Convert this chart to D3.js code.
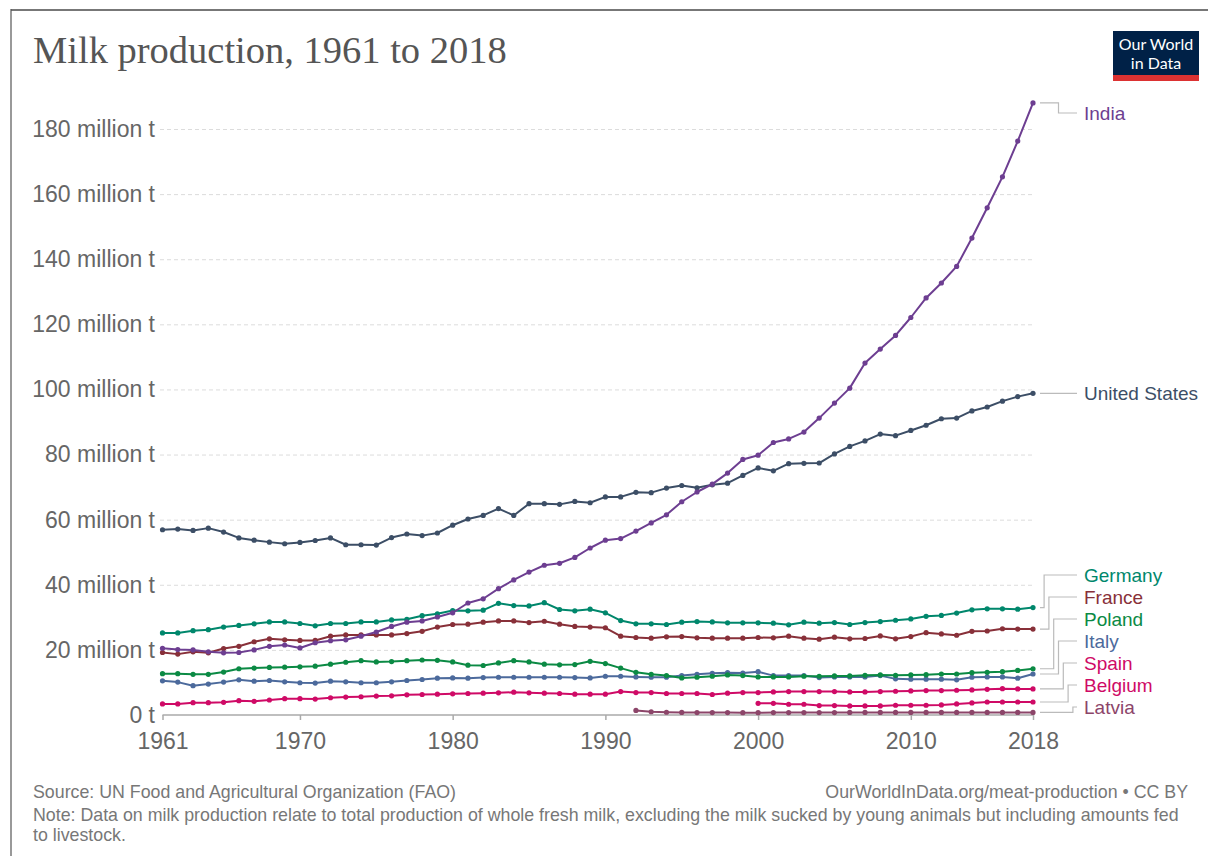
<!DOCTYPE html>
<html>
<head>
<meta charset="utf-8">
<script src="https://cdn.jsdelivr.net/npm/d3@7"></script>
<style>
  html, body { margin: 0; padding: 0; background: #fff; }
  svg { display: block; }
</style>
</head>
<body>
<svg id="chart" width="1208" height="856"></svg>
<script>
// ---------------- DATA ----------------
const firstYear = 1961;
const lastYear = 2018;
const xTickYears = [1961, 1970, 1980, 1990, 2000, 2010, 2018];
const yTickValues = [0, 20, 40, 60, 80, 100, 120, 140, 160, 180];

const india = [
  20.5, 20.1, 20.0, 19.4, 19.1, 19.2, 20.0, 21.1, 21.5, 20.6,
  22.2, 22.8, 23.1, 24.2, 25.5, 27.2, 28.5, 28.9, 30.1, 31.4,
  34.4, 35.7, 38.8, 41.5, 43.9, 46.0, 46.6, 48.4, 51.3, 53.7,
  54.2, 56.5, 59.0, 61.5, 65.5, 68.5, 70.9, 74.3, 78.5, 79.8,
  83.7, 84.8, 86.9, 91.2, 95.8, 100.4, 108.1, 112.4, 116.6, 122.1,
  128.1, 132.7, 137.8, 146.5, 155.8, 165.3, 176.3, 188.0
];
const unitedStates = [
  56.9, 57.1, 56.7, 57.4, 56.2, 54.4, 53.7, 53.1, 52.6, 53.0,
  53.6, 54.4, 52.3, 52.3, 52.2, 54.5, 55.6, 55.1, 55.9, 58.3,
  60.2, 61.3, 63.4, 61.3, 64.9, 64.9, 64.7, 65.6, 65.2, 67.0,
  67.0, 68.4, 68.3, 69.7, 70.5, 69.8, 70.7, 71.2, 73.6, 75.9,
  75.0, 77.2, 77.3, 77.4, 80.2, 82.5, 84.2, 86.3, 85.8, 87.4,
  89.0, 91.0, 91.2, 93.4, 94.6, 96.4, 97.8, 98.8
];
const germany = [
  25.2, 25.2, 25.9, 26.2, 27.0, 27.5, 28.0, 28.6, 28.6, 28.1,
  27.4, 28.1, 28.1, 28.6, 28.6, 29.2, 29.4, 30.5, 31.1, 32.1,
  32.0, 32.2, 34.3, 33.6, 33.5, 34.5, 32.4, 32.0, 32.5, 31.4,
  29.0, 28.0, 28.0, 27.8, 28.5, 28.7, 28.6, 28.3, 28.3, 28.3,
  28.2, 27.7, 28.5, 28.2, 28.4, 27.8, 28.4, 28.7, 29.1, 29.5,
  30.3, 30.6, 31.3, 32.3, 32.6, 32.6, 32.5, 33.0
];
const france = [
  19.2, 18.7, 19.4, 19.1, 20.4, 21.1, 22.5, 23.4, 23.1, 22.9,
  22.9, 24.2, 24.6, 24.6, 24.6, 24.6, 25.0, 25.7, 27.0, 27.8,
  27.9, 28.5, 28.9, 28.9, 28.4, 28.8, 27.9, 27.2, 27.0, 26.8,
  24.2, 23.8, 23.6, 24.0, 24.1, 23.7, 23.6, 23.6, 23.6, 23.8,
  23.7, 24.2, 23.6, 23.3, 23.9, 23.4, 23.5, 24.3, 23.4, 24.1,
  25.3, 24.9, 24.5, 25.7, 25.8, 26.5, 26.4, 26.4
];
const poland = [
  12.7, 12.7, 12.5, 12.5, 13.2, 14.2, 14.4, 14.6, 14.7, 14.8,
  15.0, 15.6, 16.2, 16.7, 16.3, 16.4, 16.7, 16.9, 16.8, 16.3,
  15.3, 15.2, 16.0, 16.7, 16.3, 15.6, 15.4, 15.5, 16.5, 15.8,
  14.4, 13.1, 12.5, 12.1, 11.4, 11.6, 11.9, 12.3, 12.1, 11.7,
  11.7, 11.7, 11.9, 11.9, 12.0, 12.0, 12.2, 12.3, 12.2, 12.3,
  12.4, 12.6, 12.6, 13.0, 13.1, 13.3, 13.7, 14.2
];
const italy = [
  10.5, 10.1, 9.0, 9.5, 10.1, 10.8, 10.4, 10.6, 10.2, 9.9,
  9.8, 10.4, 10.2, 9.9, 9.9, 10.2, 10.6, 10.9, 11.3, 11.4,
  11.3, 11.5, 11.6, 11.6, 11.6, 11.6, 11.6, 11.5, 11.4, 11.9,
  11.9, 11.7, 11.6, 11.6, 12.1, 12.5, 12.8, 13.0, 12.9, 13.3,
  12.1, 12.1, 12.1, 11.5, 11.7, 11.7, 11.7, 12.1, 11.1, 11.0,
  11.0, 11.0, 10.8, 11.6, 11.7, 11.7, 11.3, 12.6
];
const spain = [
  3.4, 3.4, 3.8, 3.8, 3.9, 4.4, 4.2, 4.6, 5.0, 5.0,
  4.9, 5.3, 5.5, 5.6, 5.8, 5.9, 6.2, 6.3, 6.4, 6.5,
  6.6, 6.7, 6.8, 7.0, 6.8, 6.7, 6.6, 6.4, 6.4, 6.4,
  7.2, 6.9, 6.9, 6.6, 6.6, 6.6, 6.3, 6.7, 6.9, 6.9,
  7.1, 7.2, 7.2, 7.2, 7.2, 7.1, 7.1, 7.2, 7.3, 7.4,
  7.5, 7.5, 7.6, 7.7, 7.9, 8.1, 8.0, 8.0
];
const belgiumStart = 2000;
const belgium = [
  3.6, 3.6, 3.3, 3.3, 2.9, 2.9, 2.8, 2.8, 2.8, 3.0,
  3.0, 3.0, 3.1, 3.4, 3.7, 4.0, 4.0, 4.0, 4.0
];
const latviaStart = 1992;
const latvia = [
  1.4, 1.0, 0.85, 0.8, 0.75, 0.75, 0.75, 0.7, 0.7, 0.75,
  0.75, 0.75, 0.75, 0.75, 0.8, 0.8, 0.8, 0.8, 0.8, 0.8,
  0.8, 0.8, 0.8, 0.8, 0.8, 0.8, 0.8
];

const seriesNames = ["India", "United States", "Germany", "France", "Poland", "Italy", "Spain", "Belgium", "Latvia"];
const seriesValues = [india, unitedStates, germany, france, poland, italy, spain, belgium, latvia];
const seriesStarts = [firstYear, firstYear, firstYear, firstYear, firstYear, firstYear, firstYear, belgiumStart, latviaStart];
const seriesColors = ["#6D3E91", "#3C4E66", "#00876C", "#883039", "#0B8A44", "#4C6A9C", "#CF0A66", "#CF0A66", "#8C4569"];

const titleText = "Milk production, 1961 to 2018";
const sourceText = "Source: UN Food and Agricultural Organization (FAO)";
const urlText = "OurWorldInData.org/meat-production • CC BY";
const noteLines = [
  "Note: Data on milk production relate to total production of whole fresh milk, excluding the milk sucked by young animals but including amounts fed",
  "to livestock."
];

// ---------------- CHART ----------------
const svg = d3.select("#chart");
const sans = "'Liberation Sans', Arial, Helvetica, sans-serif";

// frame
svg.append("line").attr("x1", 11).attr("x2", 1208).attr("y1", 10).attr("y2", 10)
  .attr("stroke", "#777").attr("stroke-width", 2);
svg.append("line").attr("x1", 11).attr("x2", 11).attr("y1", 9).attr("y2", 856)
  .attr("stroke", "#555").attr("stroke-width", 1.2);

// title
svg.append("text").attr("x", 33).attr("y", 63)
  .attr("font-family", "'Liberation Serif', 'Times New Roman', serif")
  .attr("font-size", 38.5).attr("fill", "#555").text(titleText);

// logo
const logo = svg.append("g");
logo.append("rect").attr("x", 1113).attr("y", 31).attr("width", 86).attr("height", 50).attr("fill", "#002147");
logo.append("rect").attr("x", 1113).attr("y", 75).attr("width", 86).attr("height", 6).attr("fill", "#DC3232");
logo.append("text").attr("x", 1156).attr("y", 50).attr("text-anchor", "middle")
  .attr("font-family", "Lato, sans-serif").attr("font-size", 16).attr("fill", "#fff").text("Our World");
logo.append("text").attr("x", 1156).attr("y", 69).attr("text-anchor", "middle")
  .attr("font-family", "Lato, sans-serif").attr("font-size", 16).attr("fill", "#fff").text("in Data");

// scales
const x = d3.scaleLinear().domain([firstYear, lastYear]).range([162.5, 1033]);
const y = d3.scaleLinear().domain([0, 180]).range([715, 129]);

// grid + y labels
const yAxis = d3.axisLeft(y).tickValues(yTickValues)
  .tickSize(-(1033 - 160)).tickPadding(5)
  .tickFormat(v => v === 0 ? "0 t" : v + " million t");
const gy = svg.append("g").attr("transform", "translate(160,0)").call(yAxis);
gy.select(".domain").remove();
gy.selectAll(".tick line")
  .attr("stroke", "#dcdcdc").attr("stroke-dasharray", "4,3").attr("stroke-width", 1)
  .filter(d => d === 0).remove();
gy.selectAll(".tick text")
  .attr("font-family", sans).attr("font-size", 23).attr("fill", "#666");

// x axis
const xAxis = d3.axisBottom(x).tickValues(xTickYears).tickFormat(d3.format("d"))
  .tickSize(5).tickPadding(13);
const gx = svg.append("g").attr("transform", "translate(0,715)").call(xAxis);
gx.select(".domain").attr("stroke", "#aaa").attr("stroke-width", 1.5)
  .attr("d", `M${x(firstYear)},0H${x(lastYear)}`);
gx.selectAll(".tick line").attr("stroke", "#aaa").attr("stroke-width", 1.5);
gx.selectAll(".tick text")
  .attr("font-family", sans).attr("font-size", 23).attr("fill", "#666");

// series
const line = d3.line().x(d => x(d.year)).y(d => y(d.value));
const series = seriesNames.map((name, i) => ({
  name,
  color: seriesColors[i],
  points: seriesValues[i].map((v, j) => ({ year: seriesStarts[i] + j, value: v }))
}));

const drawOrder = [8, 7, 6, 5, 4, 3, 2, 1, 0];
drawOrder.forEach(i => {
  const s = series[i];
  const g = svg.append("g");
  g.append("path").datum(s.points).attr("d", line)
    .attr("fill", "none").attr("stroke", s.color).attr("stroke-width", 2)
    .attr("stroke-linejoin", "round");
  g.selectAll("circle").data(s.points).join("circle")
    .attr("cx", d => x(d.year)).attr("cy", d => y(d.value)).attr("r", 2.6)
    .attr("fill", s.color);
});

// labels with collision avoidance
const labelTop = 113, labelBottom = 707, labelGap = 22;
const labels = series.map(s => {
  const endY = y(s.points[s.points.length - 1].value);
  return { name: s.name, color: s.color, endY, ly: Math.max(endY, labelTop) };
}).sort((a, b) => a.endY - b.endY);
for (let i = 1; i < labels.length; i++) labels[i].ly = Math.max(labels[i].ly, labels[i - 1].ly + labelGap);
labels[labels.length - 1].ly = Math.min(labels[labels.length - 1].ly, labelBottom);
for (let i = labels.length - 2; i >= 0; i--) labels[i].ly = Math.min(labels[i].ly, labels[i + 1].ly - labelGap);

// group displaced labels
const groups = [];
let cur = null;
labels.forEach(l => {
  l.moved = Math.abs(l.ly - l.endY) > 1;
  if (l.moved) { if (!cur) { cur = []; groups.push(cur); } cur.push(l); }
  else cur = null;
});
groups.forEach(gr => {
  const n = gr.length;
  gr.forEach((l, i) => { l.xk = 1058.5 + (i - (n - 1) / 2) * 4.8; });
});

const lg = svg.append("g");
labels.forEach(l => {
  const d = l.moved
    ? `M1040,${l.endY}H${l.xk}V${l.ly}H1077`
    : `M1040,${l.endY}H1077`;
  lg.append("path").attr("d", d).attr("fill", "none").attr("stroke", "#bbb").attr("stroke-width", 1.2);
  lg.append("text").attr("x", 1084).attr("y", l.ly).attr("dy", "0.35em")
    .attr("font-family", sans).attr("font-size", 19).attr("fill", l.color).text(l.name);
});

// footer
const footSize = 17.8;
svg.append("text").attr("x", 33).attr("y", 798)
  .attr("font-family", sans).attr("font-size", footSize).attr("fill", "#777").text(sourceText);
svg.append("text").attr("x", 1188).attr("y", 798).attr("text-anchor", "end")
  .attr("font-family", sans).attr("font-size", footSize).attr("fill", "#777").text(urlText);
noteLines.forEach((t, i) => {
  svg.append("text").attr("x", 33).attr("y", 821 + i * 20)
    .attr("font-family", sans).attr("font-size", footSize).attr("fill", "#777").text(t);
});
</script>
</body>
</html>
